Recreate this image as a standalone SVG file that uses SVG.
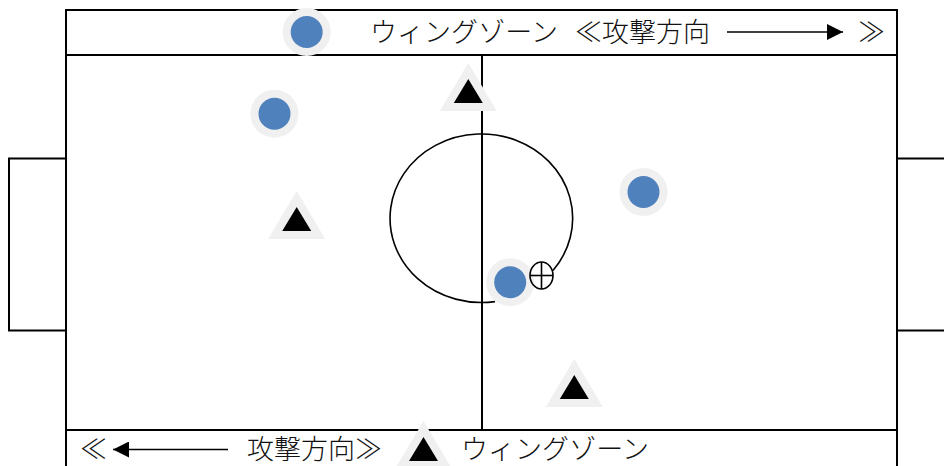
<svg xmlns="http://www.w3.org/2000/svg" width="944" height="466" viewBox="0 0 944 466">
  <style>
    .line { fill: none; stroke: #000; stroke-width: 2; }
    .thin { fill: none; stroke: #000; stroke-width: 1.6; }
    .halo { fill: #F0F0F0; }
    .blue { fill: #4F81BD; }
    .tri { fill: #000; }
    .lbl { font-family: "Liberation Serif", "Noto Sans CJK JP", serif; font-size: 27px; fill: #111; font-weight: 300; }
  </style>
  <defs>
    <marker id="arrow" viewBox="0 0 16 16" refX="16" refY="8" markerWidth="16" markerHeight="16" markerUnits="userSpaceOnUse" orient="auto">
      <path d="M0,0 L16,8 L0,16 Z" fill="#000"/>
    </marker>
    <g id="player">
      <circle r="24" class="halo"/>
      <circle r="16" class="blue"/>
    </g>
    <g id="opp">
      <polygon points="0,-32 28.5,16 -28.5,16" class="halo"/>
      <polygon points="0,-16 14.5,8 -14.5,8" class="tri"/>
    </g>
  </defs>
  <rect width="944" height="466" fill="#fff"/>

  <g id="field">
    <rect x="66" y="10" width="831" height="470" class="line"/>
    <line x1="66" y1="55" x2="897" y2="55" class="line"/>
    <line x1="66" y1="430" x2="897" y2="430" class="line"/>
    <line x1="482" y1="55" x2="482" y2="430" class="line"/>
    <polyline points="66,158.5 9,158.5 9,330.5 66,330.5" class="line"/>
    <polyline points="897,158.5 946,158.5" class="line"/>
    <polyline points="897,330.5 946,330.5" class="line"/>
  </g>

  <g id="connectors">
    <path d="M553,270.5 A91.3,84.3 0 1 0 495,301.6" class="thin"/>
    <line x1="727" y1="32" x2="843" y2="32" stroke="#000" stroke-width="1.6" marker-end="url(#arrow)"/>
    <line x1="228" y1="449.5" x2="113" y2="449.5" stroke="#000" stroke-width="1.6" marker-end="url(#arrow)"/>
  </g>

  <g id="player-top"><use href="#player" x="306.7" y="32"/></g>
  <g id="player-left"><use href="#player" x="274.5" y="113.7"/></g>
  <g id="player-right"><use href="#player" x="643.5" y="192"/></g>
  <g id="player-center"><use href="#player" x="510.2" y="282.2"/></g>

  <g id="opp-top"><use href="#opp" x="468.3" y="95"/></g>
  <g id="opp-left"><use href="#opp" x="296.7" y="223"/></g>
  <g id="opp-right"><use href="#opp" x="574.3" y="391"/></g>
  <g id="opp-bottom"><use href="#opp" x="423.5" y="453"/></g>

  <g id="ball">
    <ellipse cx="541.5" cy="275.5" rx="11.5" ry="13.5" fill="#fff" class="thin"/>
    <line x1="530" y1="275.5" x2="553" y2="275.5" class="thin"/>
    <line x1="541.5" y1="262" x2="541.5" y2="289" class="thin"/>
  </g>

  <g id="labels">
    <text x="370" y="42" class="lbl">ウィングゾーン</text>
    <text x="575" y="42" class="lbl">≪攻撃方向</text>
    <text x="858" y="42" class="lbl">≫</text>
    <text x="80" y="459" class="lbl">≪</text>
    <text x="247" y="459" class="lbl">攻撃方向≫</text>
    <text x="461" y="459" class="lbl">ウィングゾーン</text>
  </g>
</svg>
